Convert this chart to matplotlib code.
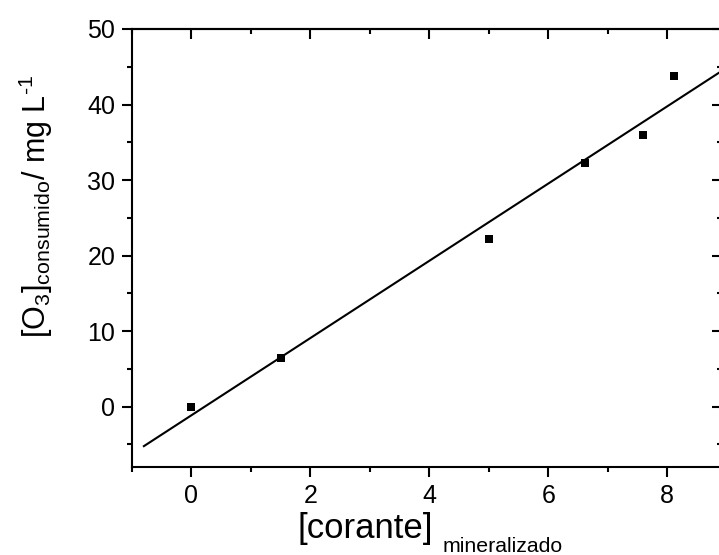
import numpy as np
import matplotlib.pyplot as plt
from matplotlib.ticker import MultipleLocator

plt.rcParams['font.family'] = ['Liberation Sans', 'DejaVu Sans']
plt.rcParams['mathtext.fontset'] = 'custom'
plt.rcParams['mathtext.rm'] = 'Liberation Sans'
plt.rcParams['mathtext.it'] = 'Liberation Sans:italic'
plt.rcParams['mathtext.bf'] = 'Liberation Sans:bold'

# measured points
corante = [0.0, 1.5, 5.0, 6.62, 7.6, 8.12]
o3_consumido = [0.0, 6.4, 22.2, 32.3, 35.9, 43.8]

# linear fit over the measurements
slope, intercept = np.polyfit(corante, o3_consumido, 1)
x_fit = np.array([-0.8, 9.2])
y_fit = slope * x_fit + intercept

W, H = 719, 555
fig = plt.figure(figsize=(W / 100, H / 100), dpi=100)
ax = fig.add_axes([132 / W, 1 - 467 / H, (722 - 132) / W, (467 - 29) / H])

ax.plot(x_fit, y_fit, color='black', lw=1.5, clip_on=True)
ax.plot(corante, o3_consumido, 's', color='black', ms=6.2, mew=0)

ax.set_xlim(-1, 8.92)
ax.set_ylim(-8, 50)
ax.xaxis.set_major_locator(MultipleLocator(2))
ax.xaxis.set_minor_locator(MultipleLocator(1))
ax.yaxis.set_major_locator(MultipleLocator(10))
ax.yaxis.set_minor_locator(MultipleLocator(5))

for sp in ax.spines.values():
    sp.set_linewidth(1.5)

ax.tick_params(axis='both', which='major', labelsize=18, width=1.5, length=7, pad=5)
ax.tick_params(axis='both', which='minor', width=1.5, length=3.5)
ax.tick_params(axis='x', which='both', direction='out', top=False)
ax.tick_params(axis='y', which='both', direction='out', right=False)

# inward ticks on the top and right edges
sec_x = ax.secondary_xaxis('top')
sec_x.xaxis.set_major_locator(MultipleLocator(2))
sec_x.xaxis.set_minor_locator(MultipleLocator(1))
sec_x.tick_params(which='major', direction='in', length=7, width=1.5, labeltop=False)
sec_x.tick_params(which='minor', direction='in', length=3.5, width=1.5)
sec_x.spines['top'].set_linewidth(1.5)
sec_y = ax.secondary_yaxis('right')
sec_y.yaxis.set_major_locator(MultipleLocator(10))
sec_y.yaxis.set_minor_locator(MultipleLocator(5))
sec_y.tick_params(which='major', direction='in', length=7, width=1.5, labelright=False)
sec_y.tick_params(which='minor', direction='in', length=3.5, width=1.5)

# axis titles
fig.text(297 / W, 1 - 538 / H, '[corante]', fontsize=25, ha='left', va='baseline')
fig.text(443 / W, 1 - 552 / H, 'mineralizado', fontsize=15.3, ha='left', va='baseline')
fig.text(36 / W, 1 - 206 / H,
         r'[O$_3$]$_{\mathrm{consumido}}$/ mg L$^{\text{-1}}$',
         fontsize=22, rotation=90, ha='center', va='center')

fig.savefig('out.png', dpi=100)
